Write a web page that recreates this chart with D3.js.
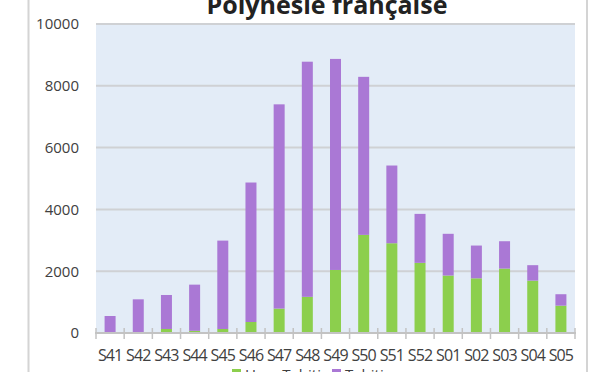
<!DOCTYPE html>
<html>
<head>
<meta charset="utf-8">
<script src="https://cdn.jsdelivr.net/npm/d3@7"></script>
<style>
  body { margin: 0; background: #fff; }
  svg { display: block; }
</style>
</head>
<body>
<div id="chart"></div>
<script>
// Data
let weeks = ["S41", "S42", "S43", "S44", "S45", "S46", "S47", "S48", "S49",
    "S50", "S51", "S52", "S01", "S02", "S03", "S04", "S05"];
let horsTahiti = [0, 20, 130, 70, 130, 356, 790, 1170, 2040, 3175, 2905, 2270, 1860, 1770, 2085, 1695, 885];
let tahiti = [550, 1070, 1100, 1495, 2860, 4514, 6610, 7610, 6830, 5115, 2515, 1585, 1350, 1060, 885, 500, 370];
let yTicks = [0, 2000, 4000, 6000, 8000, 10000];
let seriesNames = ["Hors Tahiti", "Tahiti"];
let colors = ["#8ccf4d", "#aa78d5"];

let width = 600;
let height = 372;
// plot area
let plotLeft = 96, plotRight = 575, plotTop = 24, plotBottom = 333;

let svg = d3.select("#chart")
    .append("svg")
    .attr("width", width)
    .attr("height", height)
    .style("font-family", "'Open Sans', sans-serif");

// frame lines of the chart box
svg.append("line")
    .attr("x1", 28.5).attr("x2", 28.5).attr("y1", 0).attr("y2", height)
    .attr("stroke", "#d4d4d4").attr("stroke-width", 2);
svg.append("line")
    .attr("x1", 587).attr("x2", 587).attr("y1", 0).attr("y2", height)
    .attr("stroke", "#d4d4d4").attr("stroke-width", 2);

// plot background
svg.append("rect")
    .attr("x", plotLeft).attr("y", plotTop)
    .attr("width", plotRight - plotLeft).attr("height", plotBottom - plotTop)
    .attr("fill", "#e3ecf7");

let x = d3.scaleBand()
    .domain(weeks)
    .range([plotLeft, plotRight])
    .paddingInner(0)
    .paddingOuter(0);

let y = d3.scaleLinear()
    .domain([0, 10000])
    .range([plotBottom, plotTop]);

// gridlines
svg.append("g")
    .selectAll("line")
    .data(yTicks.filter(d => d > 0))
    .enter()
    .append("line")
    .attr("x1", plotLeft).attr("x2", plotRight)
    .attr("y1", d => y(d)).attr("y2", d => y(d))
    .attr("stroke", "#cfd1d4")
    .attr("stroke-width", 2);

// y labels
let yAxis = d3.axisLeft(y)
    .tickValues(yTicks)
    .tickFormat(d3.format("d"))
    .tickSize(0)
    .tickPadding(17);
let gy = svg.append("g")
    .attr("transform", "translate(" + plotLeft + ",0)")
    .call(yAxis);
gy.select(".domain").remove();
gy.selectAll("text")
    .attr("font-size", 15)
    .attr("fill", "#404040")
    .attr("font-family", "'Open Sans', sans-serif");

// stacked bars
let rows = weeks.map(function(w, i) {
    return { week: w, "Hors Tahiti": horsTahiti[i], "Tahiti": tahiti[i] };
});
let stack = d3.stack().keys(seriesNames);
let layers = stack(rows);
let barW = 11;

svg.append("g")
    .selectAll("g")
    .data(layers)
    .enter()
    .append("g")
    .attr("fill", (d, i) => colors[i])
    .selectAll("rect")
    .data(d => d)
    .enter()
    .append("rect")
    .attr("x", d => x(d.data.week) + x.bandwidth() / 2 - barW / 2)
    .attr("y", d => y(d[1]))
    .attr("width", barW)
    .attr("height", d => y(d[0]) - y(d[1]));

// x axis line and ticks at band edges
let gx = svg.append("g").attr("transform", "translate(0," + plotBottom + ")");
gx.append("line")
    .attr("x1", plotLeft - 1).attr("x2", plotRight + 1)
    .attr("stroke", "#c3c3c3").attr("stroke-width", 2);
gx.selectAll(".tk")
    .data(weeks.concat(["end"]))
    .enter()
    .append("line")
    .attr("class", "tk")
    .attr("x1", (d, i) => plotLeft + i * x.bandwidth())
    .attr("x2", (d, i) => plotLeft + i * x.bandwidth())
    .attr("y1", -5).attr("y2", 6)
    .attr("stroke", "#c3c3c3").attr("stroke-width", 1.5);
gx.selectAll(".lbl")
    .data(weeks)
    .enter()
    .append("text")
    .attr("class", "lbl")
    .attr("x", d => x(d) + x.bandwidth() / 2)
    .attr("y", 28)
    .attr("text-anchor", "middle")
    .attr("font-size", 16)
    .attr("fill", "#404040")
    .attr("letter-spacing", -0.9)
    .text(d => d);

// title
svg.append("text")
    .attr("x", 327)
    .attr("y", 14)
    .attr("text-anchor", "middle")
    .attr("font-size", 25)
    .attr("font-weight", "bold")
    .attr("fill", "#222")
    .text("Polynésie française");

// legend (cut off by the bottom edge, like the source)
let legend = svg.append("g");
let legX = [232, 332];
seriesNames.forEach(function(name, i) {
    legend.append("rect")
        .attr("x", legX[i]).attr("y", 369)
        .attr("width", 9).attr("height", 9)
        .attr("fill", colors[i]);
    legend.append("text")
        .attr("x", legX[i] + 13).attr("y", 380)
        .attr("font-size", 15)
        .attr("fill", "#404040")
        .text(name);
});
</script>
</body>
</html>
